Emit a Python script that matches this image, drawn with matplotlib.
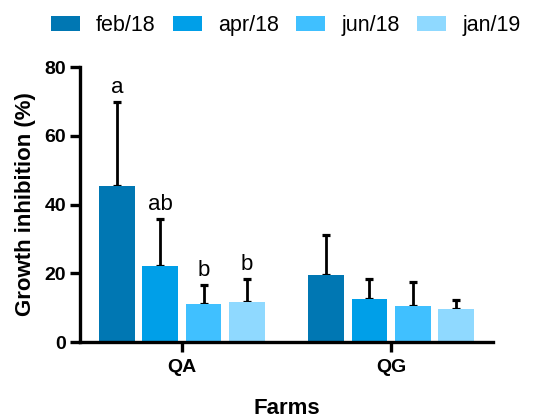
import numpy as np
import matplotlib.pyplot as plt

plt.rcParams['font.family'] = ['Liberation Sans', 'DejaVu Sans']

farms = ['QA', 'QG']
dates = ['feb/18', 'apr/18', 'jun/18', 'jan/19']
colors = ['#0077B3', '#009FE8', '#40C0FF', '#8FD9FF']

# mean growth inhibition per date, one value per farm
means = {
    'feb/18': [45.3, 19.5],
    'apr/18': [22.1, 12.5],
    'jun/18': [11.2, 10.5],
    'jan/19': [11.5, 9.6],
}
# upper error (SD)
errs = {
    'feb/18': [24.5, 11.5],
    'apr/18': [13.6, 5.7],
    'jun/18': [5.3, 7.1],
    'jan/19': [6.8, 2.5],
}
letters_qa = ['a', 'ab', 'b', 'b']

fig = plt.figure(figsize=(5.39, 4.18), dpi=100)
ax = fig.add_axes([0.1484, 0.1818, 0.7663, 0.6579])

x = np.arange(len(farms))
width = 0.172
step = 0.206
for i, d in enumerate(dates):
    pos = x + (i - 1.5) * step
    ax.bar(pos, means[d], width, color=colors[i], label=d, zorder=2)
    ax.errorbar(pos, means[d], yerr=[np.zeros(len(farms)), errs[d]], fmt='none',
                ecolor='black', elinewidth=2, capsize=3.2, capthick=2.3, zorder=1)
    # significance letters over QA bars
    ax.text(pos[0], means[d][0] + errs[d][0] + 2.7, letters_qa[i],
            ha='center', va='baseline', fontsize=16)

ax.set_xlim(-0.488, 1.488)
ax.set_ylim(0, 80)
ax.set_yticks([0, 20, 40, 60, 80])
ax.set_xticks(x)
ax.set_xticklabels(farms, fontweight='bold', fontsize=14)
for lab in ax.get_yticklabels():
    lab.set_fontweight('bold')
    lab.set_fontsize(14)
ax.tick_params(axis='both', width=2.4, length=7, color='black')
ax.tick_params(axis='x', pad=5)
ax.tick_params(axis='y', pad=3)

for s in ['top', 'right']:
    ax.spines[s].set_visible(False)
for s in ['left', 'bottom']:
    ax.spines[s].set_linewidth(2.4)

ax.set_ylabel('Growth inhibition (%)', fontweight='bold', fontsize=16, labelpad=6)
ax.set_xlabel('Farms', fontweight='bold', fontsize=16, labelpad=16)

fig.legend(loc='upper center', bbox_to_anchor=(0.53, 1.01), ncol=4, frameon=False,
           fontsize=15.5, handlelength=1.35, handleheight=0.7, columnspacing=0.8,
           handletextpad=0.75)

fig.savefig('out.png', dpi=100)
